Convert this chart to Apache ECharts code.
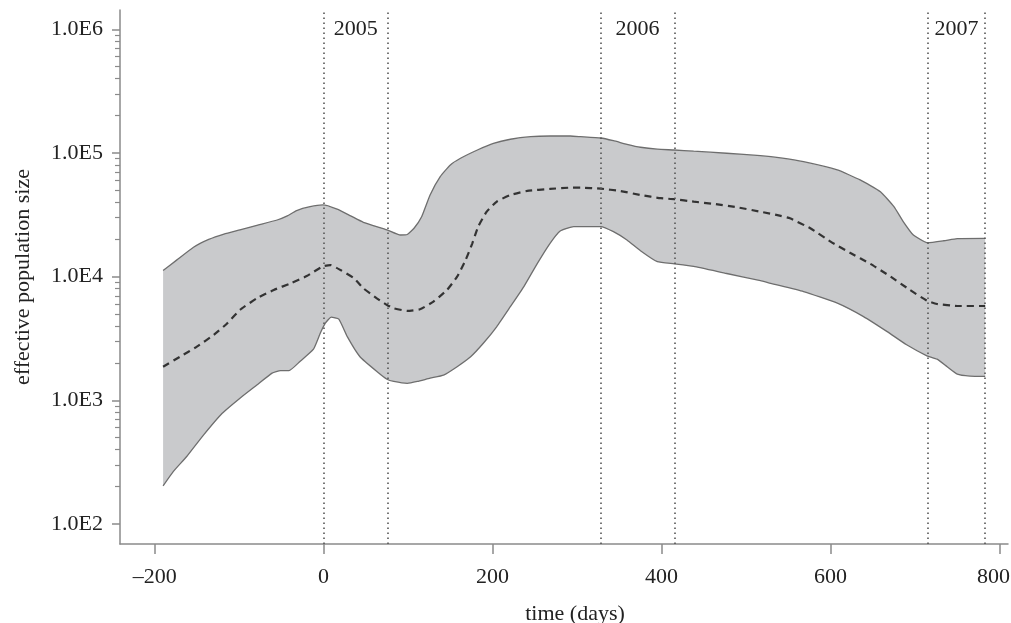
<!DOCTYPE html>
<html>
<head>
<meta charset="utf-8">
<script src="https://cdn.jsdelivr.net/npm/echarts@6/dist/echarts.min.js"></script>
<style>html,body{margin:0;padding:0;background:#fff;}#c{width:1011px;height:623px;}</style>
</head>
<body>
<div id="c"></div>
<script>
// ---- data (time in days, effective population size) ----
const upperBound = [[-190,11200],[-174,13600],[-154,17300],[-136,20000],[-118,22100],[-99,23900],[-79,26000],[-55,28700],[-43,31000],[-32,34200],[-16,36800],[-1,38000],[16,35100],[32,31000],[47,27500],[75,23900],[91,21700],[99,21900],[107,24600],[116,30500],[126,45700],[138,64300],[150,80000],[162,90600],[182,105700],[201,119700],[221,129100],[245,135500],[268,137100],[292,137100],[304,135500],[328,132100],[343,125600],[359,117500],[375,111200],[395,107200],[415,105700],[438,103300],[477,99500],[517,95100],[541,91200],[568,85100],[608,72900],[635,60500],[659,48600],[675,36800],[686,27900],[698,21700],[715,18800],[734,19500],[750,20300],[783,20400]];
const lowerBound = [[-190,203],[-178,265],[-162,351],[-142,525],[-120,785],[-99,1040],[-79,1330],[-61,1660],[-51,1740],[-41,1740],[-28,2060],[-12,2590],[-4,3480],[2,4200],[9,4700],[18,4530],[28,3270],[43,2250],[63,1710],[75,1480],[83,1420],[99,1370],[111,1420],[126,1510],[142,1600],[158,1870],[174,2250],[189,2890],[205,3950],[221,5710],[237,8300],[253,12800],[268,18600],[280,23400],[296,25400],[328,25400],[343,23100],[359,19800],[375,16200],[395,13200],[415,12700],[438,12100],[477,10600],[517,9290],[529,8830],[568,7570],[608,6100],[639,4750],[667,3590],[690,2810],[714,2290],[726,2150],[738,1870],[750,1630],[765,1570],[783,1560]];
const medianLine = [[-190,1870],[-170,2250],[-150,2720],[-130,3380],[-114,4200],[-99,5380],[-79,6680],[-59,7800],[-39,8830],[-20,10100],[-1,12100],[8,12400],[20,11300],[36,9700],[47,8050],[63,6680],[75,5900],[83,5550],[99,5280],[114,5450],[130,6280],[146,7800],[158,10000],[168,13600],[176,18600],[183,25400],[193,33500],[205,40400],[221,45700],[241,49300],[268,51200],[292,52400],[304,52400],[328,51400],[351,49300],[375,45700],[399,43100],[415,42300],[438,40400],[462,38700],[489,36400],[517,33500],[541,31000],[552,29600],[576,24600],[600,19200],[623,15600],[647,12700],[671,10000],[694,7800],[714,6400],[726,6010],[750,5790],[783,5790]];
const seasonBounds = [0, 76, 328, 415, 715, 783];
const yearLabels = ['2005', '2006', '2007'];
const yearSpans = [[0, 76], [328, 415], [715, 783]];
const xTicks = [-200, 0, 200, 400, 600, 800];
const yTicks = [1e2, 1e3, 1e4, 1e5, 1e6];
const yMinorTicks = [];
for (let d = 2; d < 6; d++) for (let k = 2; k <= 9; k++) yMinorTicks.push(k * Math.pow(10, d));

// ---- build ----
const lg = v => Math.log10(v);
const toLog = arr => arr.map(p => [p[0], lg(p[1])]);
const FONT = 'Liberation Serif';
const TXT = '#222';
const AX = '#8a8a8a';

const upperL = toLog(upperBound), lowerL = toLog(lowerBound), medL = toLog(medianLine);
const lastTick = xTicks[xTicks.length - 1];

const chart = echarts.init(document.getElementById('c'), null, {renderer: 'canvas'});
const yBase = {
  type: 'value', min: 1.838, max: 6.156, position: 'left',
  splitLine: {show: false}
};
chart.setOption({
  animation: false,
  backgroundColor: '#fff',
  grid: {left: 120, right: 3, top: 10, bottom: 79, outerBoundsMode: 'none', containLabel: false},
  xAxis: {
    type: 'value', min: -241, max: 810,
    name: 'time (days)', nameLocation: 'middle', nameGap: 59,
    nameTextStyle: {fontFamily: FONT, fontSize: 22, color: TXT, padding: [0, 0, 0, 22]},
    axisLine: {onZero: false, lineStyle: {color: AX, width: 1.5}},
    axisTick: {customValues: xTicks, length: 10, lineStyle: {color: AX, width: 1.5}},
    axisLabel: {customValues: xTicks, margin: 22, fontFamily: FONT, fontSize: 22, color: TXT,
      formatter: v => v === lastTick ? '{r|' + v + '}' : (v < 0 ? '\u2013' + Math.abs(v) : String(v)),
      rich: {r: {fontFamily: FONT, fontSize: 22, color: TXT, padding: [0, 12, 0, 0]}}},
    splitLine: {show: false}
  },
  yAxis: [
    Object.assign({}, yBase, {
      name: 'effective population size', nameLocation: 'middle', nameGap: 86,
      nameTextStyle: {fontFamily: FONT, fontSize: 22, color: TXT},
      axisLine: {show: true, onZero: false, lineStyle: {color: AX, width: 1.5}},
      axisTick: {show: true, customValues: yTicks.map(lg), length: 8, lineStyle: {color: AX, width: 1.5}},
      axisLabel: {customValues: yTicks.map(lg), margin: 17, fontFamily: FONT, fontSize: 22, color: TXT,
        formatter: v => '1.0E' + Math.round(v)}
    }),
    Object.assign({}, yBase, {
      axisLine: {show: false, onZero: false},
      axisTick: {show: true, customValues: yMinorTicks.map(lg), length: 5, lineStyle: {color: AX, width: 1.2}},
      axisLabel: {show: false}
    })
  ],
  series: [
    {
      type: 'custom', coordinateSystem: 'cartesian2d', data: [0], silent: true, z: 1,
      renderItem: function (params, api) {
        const pts = upperL.map(p => api.coord(p)).concat(lowerL.slice().reverse().map(p => api.coord(p)));
        return {type: 'polygon', shape: {points: pts}, style: {fill: '#c9cacc', stroke: null}};
      }
    },
    {type: 'line', data: upperL, symbol: 'none', smooth: 0.15, z: 3,
      lineStyle: {color: '#6e6e6e', width: 1.3}},
    {type: 'line', data: lowerL, symbol: 'none', smooth: 0.15, z: 3,
      lineStyle: {color: '#6e6e6e', width: 1.3}},
    {type: 'line', data: medL, symbol: 'none', smooth: 0.15, z: 4,
      lineStyle: {color: '#333', width: 2.2, type: [7, 5]},
      markLine: {
        silent: true, symbol: 'none', label: {show: false},
        lineStyle: {color: '#555', width: 1.6, type: [1.6, 3.4]},
        data: seasonBounds.map(d => ({xAxis: d}))
      }
    },
    {type: 'scatter', symbolSize: 1, silent: true, z: 5,
      itemStyle: {color: 'rgba(0,0,0,0)', opacity: 1},
      data: yearLabels.map((t, i) => ({name: t, value: [(yearSpans[i][0] + yearSpans[i][1]) / 2, 6.0]})),
      label: {show: true, position: 'inside', formatter: '{b}', fontFamily: FONT, fontSize: 22, color: TXT, opacity: 1}
    }
  ]
});
</script>
</body>
</html>
